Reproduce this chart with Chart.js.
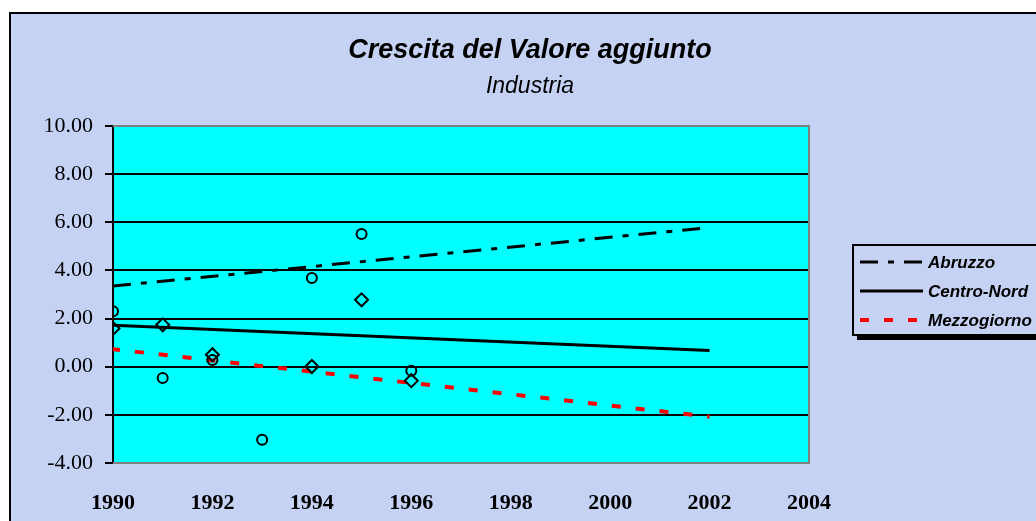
<!DOCTYPE html>
<html>
<head>
<meta charset="utf-8">
<script src="https://cdn.jsdelivr.net/npm/chart.js@4/dist/chart.umd.min.js"></script>
<style>
  html, body { margin: 0; padding: 0; background: #ffffff; width: 1036px; height: 521px; overflow: hidden; }
  #frame { position: absolute; left: 9px; top: 12px; width: 1100px; height: 600px;
           border: 2px solid #000; background: #c6d2f3; }
  #wrap { position: absolute; left: 0; top: 0; width: 1036px; height: 521px; }
</style>
</head>
<body>
<div id="frame"></div>
<div id="wrap"><canvas id="c" width="1036" height="521"></canvas></div>
<script>
// ---- data ----
const trendYears = [1990, 2002];
const abruzzoTrend = [3.35, 5.78];
const centroNordTrend = [1.72, 0.67];
const mezzogiornoTrend = [0.73, -2.08];

const circleYears = [1990, 1991, 1992, 1993, 1994, 1995, 1996];
const circleValues = [2.30, -0.47, 0.28, -3.03, 3.69, 5.51, -0.17];

const diamondYears = [1990, 1991, 1992, 1994, 1995, 1996];
const diamondValues = [1.59, 1.74, 0.50, 0.01, 2.78, -0.58];

const seriesNames = ['Abruzzo', 'Centro-Nord', 'Mezzogiorno'];
const titleText = 'Crescita del Valore aggiunto';
const subtitleText = 'Industria';
const yMin = -4, yMax = 10, yStep = 2;
const xMin = 1990, xMax = 2004, xStep = 2;

const BG = '#c6d2f3';

function pts(xs, ys) { return xs.map((x, i) => ({ x: x, y: ys[i] })); }

const plotBg = {
  id: 'plotBg',
  beforeDraw(chart) {
    const { ctx, chartArea: a } = chart;
    ctx.save();
    ctx.fillStyle = '#00ffff';
    ctx.fillRect(a.left, a.top, a.right - a.left, a.bottom - a.top);
    ctx.restore();
  },
  beforeDatasetsDraw(chart) {
    const { ctx, chartArea: a } = chart;
    ctx.save();
    ctx.strokeStyle = '#808080';
    ctx.lineWidth = 2;
    ctx.beginPath();
    ctx.moveTo(a.left, a.top);
    ctx.lineTo(a.right, a.top);
    ctx.lineTo(a.right, a.bottom);
    ctx.lineTo(a.left, a.bottom);
    ctx.stroke();
    ctx.restore();
  }
};

const boxLegend = {
  id: 'boxLegend',
  afterDraw(chart) {
    const ctx = chart.ctx;
    const bx = 853, by = 245, bw = 220, bh = 90;
    ctx.save();
    ctx.fillStyle = '#000';
    ctx.fillRect(bx + 4, by + 5, bw, bh);
    ctx.fillStyle = BG;
    ctx.fillRect(bx, by, bw, bh);
    ctx.strokeStyle = '#000';
    ctx.lineWidth = 2;
    ctx.strokeRect(bx, by, bw, bh);
    const rows = [262, 291, 320];
    const lineDs = chart.data.datasets.filter(d => d.isTrend);
    lineDs.forEach((d, i) => {
      const y = rows[i];
      ctx.strokeStyle = d.borderColor;
      ctx.lineWidth = d.borderWidth;
      ctx.setLineDash(d.borderDash || []);
      ctx.beginPath();
      ctx.moveTo(860, y);
      ctx.lineTo(923, y);
      ctx.stroke();
      ctx.setLineDash([]);
      ctx.fillStyle = '#000';
      ctx.font = 'italic bold 17px "Liberation Sans", Arial, sans-serif';
      ctx.textBaseline = 'middle';
      ctx.textAlign = 'left';
      ctx.fillText(d.label, 928, y + 1);
    });
    ctx.restore();
  }
};

new Chart(document.getElementById('c'), {
  type: 'scatter',
  data: {
    datasets: [
      { label: 'circles', data: pts(circleYears, circleValues), showLine: false,
        pointStyle: 'circle', pointRadius: 5, pointBorderWidth: 2,
        pointBorderColor: '#000', pointBackgroundColor: 'rgba(0,0,0,0)' },
      { label: 'diamonds', data: pts(diamondYears, diamondValues), showLine: false,
        pointStyle: 'rectRot', pointRadius: 6.5, pointBorderWidth: 2,
        pointBorderColor: '#000', pointBackgroundColor: 'rgba(0,0,0,0)' },
      { label: seriesNames[0], isTrend: true, data: pts(trendYears, abruzzoTrend), showLine: true,
        borderColor: '#000', borderWidth: 3, borderDash: [18, 10, 6, 10], pointRadius: 0 },
      { label: seriesNames[1], isTrend: true, data: pts(trendYears, centroNordTrend), showLine: true,
        borderColor: '#000', borderWidth: 3, pointRadius: 0 },
      { label: seriesNames[2], isTrend: true, data: pts(trendYears, mezzogiornoTrend), showLine: true,
        borderColor: '#ff0000', borderWidth: 4, borderDash: [9, 15], borderDashOffset: 2, pointRadius: 0 }
    ]
  },
  options: {
    responsive: false,
    animation: false,
    events: [],
    layout: { padding: { left: 24, right: 0, top: 0, bottom: 0 } },
    plugins: {
      legend: { display: false },
      tooltip: { enabled: false },
      title: { display: true, text: titleText, color: '#000',
        font: { family: '"Liberation Sans", Arial, sans-serif', size: 27, style: 'italic', weight: 'bold', lineHeight: 1.2 },
        padding: { top: 34, bottom: 0 } },
      subtitle: { display: true, text: subtitleText, color: '#000',
        font: { family: '"Liberation Sans", Arial, sans-serif', size: 23, style: 'italic', weight: 'normal', lineHeight: 1.2 },
        padding: { top: 6, bottom: 26 } }
    },
    scales: {
      x: {
        type: 'linear', min: xMin, max: xMax,
        afterFit(s) { s.height = 58; },
        ticks: { stepSize: xStep, color: '#000', padding: 27,
          font: { family: '"Liberation Serif", "Times New Roman", serif', size: 22, weight: 'bold' },
          callback: v => String(v) },
        grid: { display: false, drawTicks: false },
        border: { display: false }
      },
      y: {
        min: yMin, max: yMax,
        afterFit(s) { s.width = 89; },
        ticks: { stepSize: yStep, color: '#000', padding: 12,
          font: { family: '"Liberation Serif", "Times New Roman", serif', size: 22 },
          callback: v => Number(v).toFixed(2) },
        grid: { color: ctx => (ctx.tick && (ctx.tick.value === yMax || ctx.tick.value === yMin)) ? 'rgba(0,0,0,0)' : '#000',
                tickColor: '#000', lineWidth: 2, tickLength: 8 },
        border: { display: true, color: '#000', width: 2 }
      },
      yRight: {
        position: 'right', min: yMin, max: yMax,
        afterFit(s) { s.width = 227; },
        ticks: { display: false },
        grid: { display: false, drawTicks: false },
        border: { display: false }
      }
    }
  },
  plugins: [plotBg, boxLegend]
});
</script>
</body>
</html>
